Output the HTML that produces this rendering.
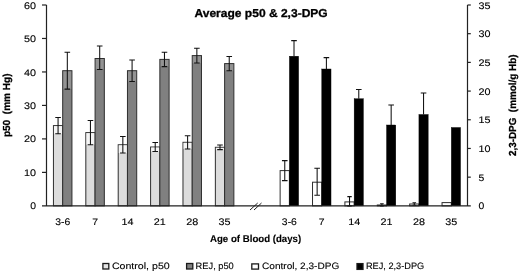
<!DOCTYPE html>
<html><head><meta charset="utf-8"><title>Average p50 &amp; 2,3-DPG</title>
<style>
html,body{margin:0;padding:0;background:#fff;}
body{width:520px;height:273px;overflow:hidden;font-family:"Liberation Sans",sans-serif;}
svg{display:block;will-change:transform;text-rendering:geometricPrecision;filter:blur(0.35px)}
.t{font-family:"Liberation Sans",sans-serif;font-size:9.5px;fill:#000;stroke:#000;stroke-width:0.12px}
.b{font-family:"Liberation Sans",sans-serif;font-weight:bold;fill:#000;stroke:#000;stroke-width:0.12px}
</style></head><body>
<svg width="520" height="273" viewBox="0 0 520 273">
<rect width="520" height="273" fill="#fff"/>
<g>
<rect x="53.44" y="125.60" width="9.25" height="80.25" fill="#dcdcdc" stroke="#2e2e2e" stroke-width="1"/>
<rect x="53.94" y="126.10" width="8.25" height="7.60" fill="#fff" fill-opacity="0.7"/>
<path d="M58.07 117.50V133.70M55.27 117.50H60.87M55.27 133.70H60.87" stroke="#111" stroke-width="1.05" fill="none"/>
<rect x="62.69" y="70.70" width="9.25" height="135.15" fill="#808080" stroke="#2e2e2e" stroke-width="1"/>
<rect x="63.19" y="71.20" width="8.25" height="17.90" fill="#fff" fill-opacity="0.15"/>
<path d="M67.32 52.30V89.10M64.52 52.30H70.12M64.52 89.10H70.12" stroke="#111" stroke-width="1.05" fill="none"/>
<rect x="85.82" y="132.60" width="9.25" height="73.25" fill="#dcdcdc" stroke="#2e2e2e" stroke-width="1"/>
<rect x="86.32" y="133.10" width="8.25" height="11.60" fill="#fff" fill-opacity="0.7"/>
<path d="M90.45 120.50V144.70M87.65 120.50H93.25M87.65 144.70H93.25" stroke="#111" stroke-width="1.05" fill="none"/>
<rect x="95.08" y="58.50" width="9.25" height="147.35" fill="#808080" stroke="#2e2e2e" stroke-width="1"/>
<rect x="95.58" y="59.00" width="8.25" height="10.40" fill="#fff" fill-opacity="0.15"/>
<path d="M99.70 46.00V69.40M96.90 46.00H102.50M96.90 69.40H102.50" stroke="#111" stroke-width="1.05" fill="none"/>
<rect x="118.21" y="144.75" width="9.25" height="61.10" fill="#dcdcdc" stroke="#2e2e2e" stroke-width="1"/>
<rect x="118.71" y="145.25" width="8.25" height="7.75" fill="#fff" fill-opacity="0.7"/>
<path d="M122.84 136.50V153.00M120.04 136.50H125.64M120.04 153.00H125.64" stroke="#111" stroke-width="1.05" fill="none"/>
<rect x="127.46" y="70.70" width="9.25" height="135.15" fill="#808080" stroke="#2e2e2e" stroke-width="1"/>
<rect x="127.96" y="71.20" width="8.25" height="10.30" fill="#fff" fill-opacity="0.15"/>
<path d="M132.09 59.90V81.50M129.29 59.90H134.89M129.29 81.50H134.89" stroke="#111" stroke-width="1.05" fill="none"/>
<rect x="150.59" y="147.00" width="9.25" height="58.85" fill="#dcdcdc" stroke="#2e2e2e" stroke-width="1"/>
<rect x="151.09" y="147.50" width="8.25" height="4.00" fill="#fff" fill-opacity="0.7"/>
<path d="M155.22 142.50V151.50M152.42 142.50H158.02M152.42 151.50H158.02" stroke="#111" stroke-width="1.05" fill="none"/>
<rect x="159.85" y="59.40" width="9.25" height="146.45" fill="#808080" stroke="#2e2e2e" stroke-width="1"/>
<rect x="160.35" y="59.90" width="8.25" height="6.70" fill="#fff" fill-opacity="0.15"/>
<path d="M164.47 52.20V66.60M161.67 52.20H167.27M161.67 66.60H167.27" stroke="#111" stroke-width="1.05" fill="none"/>
<rect x="182.98" y="142.30" width="9.25" height="63.55" fill="#dcdcdc" stroke="#2e2e2e" stroke-width="1"/>
<rect x="183.48" y="142.80" width="8.25" height="6.10" fill="#fff" fill-opacity="0.7"/>
<path d="M187.60 135.70V148.90M184.80 135.70H190.40M184.80 148.90H190.40" stroke="#111" stroke-width="1.05" fill="none"/>
<rect x="192.23" y="55.60" width="9.25" height="150.25" fill="#808080" stroke="#2e2e2e" stroke-width="1"/>
<rect x="192.73" y="56.10" width="8.25" height="6.90" fill="#fff" fill-opacity="0.15"/>
<path d="M196.86 48.20V63.00M194.06 48.20H199.66M194.06 63.00H199.66" stroke="#111" stroke-width="1.05" fill="none"/>
<rect x="215.36" y="147.30" width="9.25" height="58.55" fill="#dcdcdc" stroke="#2e2e2e" stroke-width="1"/>
<rect x="215.86" y="147.80" width="8.25" height="1.80" fill="#fff" fill-opacity="0.7"/>
<path d="M219.99 145.00V149.60M217.19 145.00H222.79M217.19 149.60H222.79" stroke="#111" stroke-width="1.05" fill="none"/>
<rect x="224.62" y="63.60" width="9.25" height="142.25" fill="#808080" stroke="#2e2e2e" stroke-width="1"/>
<rect x="225.12" y="64.10" width="8.25" height="6.60" fill="#fff" fill-opacity="0.15"/>
<path d="M229.24 56.50V70.70M226.44 56.50H232.04M226.44 70.70H232.04" stroke="#111" stroke-width="1.05" fill="none"/>
<rect x="280.13" y="170.60" width="9.25" height="35.25" fill="#ffffff" stroke="#2e2e2e" stroke-width="1"/>
<path d="M284.76 160.60V180.60M281.96 160.60H287.56M281.96 180.60H287.56" stroke="#111" stroke-width="1.05" fill="none"/>
<rect x="289.38" y="56.20" width="9.25" height="149.65" fill="#000000" stroke="#000" stroke-width="0.4"/>
<path d="M294.01 40.60V56.20M291.21 40.60H296.81" stroke="#111" stroke-width="1.05" fill="none"/>
<rect x="312.52" y="182.20" width="9.25" height="23.65" fill="#ffffff" stroke="#2e2e2e" stroke-width="1"/>
<path d="M317.14 168.30V195.20M314.34 168.30H319.94M314.34 195.20H319.94" stroke="#111" stroke-width="1.05" fill="none"/>
<rect x="321.77" y="69.00" width="9.25" height="136.85" fill="#000000" stroke="#000" stroke-width="0.4"/>
<path d="M326.40 57.60V69.00M323.60 57.60H329.20" stroke="#111" stroke-width="1.05" fill="none"/>
<rect x="344.90" y="201.90" width="9.25" height="3.95" fill="#ffffff" stroke="#2e2e2e" stroke-width="1"/>
<path d="M349.53 196.60V205.85M347.33 196.60H351.73M347.33 205.85H351.73" stroke="#111" stroke-width="1.05" fill="none"/>
<rect x="354.15" y="98.75" width="9.25" height="107.10" fill="#000000" stroke="#000" stroke-width="0.4"/>
<path d="M358.78 89.50V98.75M355.98 89.50H361.58" stroke="#111" stroke-width="1.05" fill="none"/>
<rect x="377.29" y="205.00" width="9.25" height="0.85" fill="#ffffff" stroke="#2e2e2e" stroke-width="1"/>
<path d="M381.91 203.70V205.85M380.11 203.70H383.71M380.11 205.85H383.71" stroke="#111" stroke-width="1.05" fill="none"/>
<rect x="386.54" y="125.00" width="9.25" height="80.85" fill="#000000" stroke="#000" stroke-width="0.4"/>
<path d="M391.16 105.00V125.00M388.36 105.00H393.96" stroke="#111" stroke-width="1.05" fill="none"/>
<rect x="409.67" y="204.00" width="9.25" height="1.85" fill="#ffffff" stroke="#2e2e2e" stroke-width="1"/>
<path d="M414.30 202.70V205.30M412.50 202.70H416.10M412.50 205.30H416.10" stroke="#111" stroke-width="1.05" fill="none"/>
<rect x="418.92" y="114.50" width="9.25" height="91.35" fill="#000000" stroke="#000" stroke-width="0.4"/>
<path d="M423.55 93.00V114.50M420.75 93.00H426.35" stroke="#111" stroke-width="1.05" fill="none"/>
<rect x="442.05" y="202.60" width="9.25" height="3.25" fill="#ffffff" stroke="#2e2e2e" stroke-width="1"/>
<rect x="451.31" y="127.50" width="9.25" height="78.35" fill="#000000" stroke="#000" stroke-width="0.4"/>
</g>
<g>
<path d="M46.5 5.0V205.85M467.5 5.0V205.85M42.0 205.85H470.8" stroke="#222" stroke-width="1.2" fill="none"/>
<text x="36.0" y="209.40" text-anchor="end" class="t" textLength="5.8" lengthAdjust="spacingAndGlyphs">0</text>
<path d="M42.0 172.38H46.5" stroke="#222" stroke-width="1.2"/>
<text x="36.0" y="175.93" text-anchor="end" class="t" textLength="12.0" lengthAdjust="spacingAndGlyphs">10</text>
<path d="M42.0 138.90H46.5" stroke="#222" stroke-width="1.2"/>
<text x="36.0" y="142.45" text-anchor="end" class="t" textLength="12.0" lengthAdjust="spacingAndGlyphs">20</text>
<path d="M42.0 105.42H46.5" stroke="#222" stroke-width="1.2"/>
<text x="36.0" y="108.97" text-anchor="end" class="t" textLength="12.0" lengthAdjust="spacingAndGlyphs">30</text>
<path d="M42.0 71.95H46.5" stroke="#222" stroke-width="1.2"/>
<text x="36.0" y="75.50" text-anchor="end" class="t" textLength="12.0" lengthAdjust="spacingAndGlyphs">40</text>
<path d="M42.0 38.47H46.5" stroke="#222" stroke-width="1.2"/>
<text x="36.0" y="42.02" text-anchor="end" class="t" textLength="12.0" lengthAdjust="spacingAndGlyphs">50</text>
<path d="M42.0 5.00H46.5" stroke="#222" stroke-width="1.2"/>
<text x="36.0" y="8.55" text-anchor="end" class="t" textLength="12.0" lengthAdjust="spacingAndGlyphs">60</text>
<text x="478.5" y="209.40" class="t" textLength="5.8" lengthAdjust="spacingAndGlyphs">0</text>
<path d="M467.5 177.16H470.8" stroke="#222" stroke-width="1.2"/>
<text x="478.5" y="180.71" class="t" textLength="5.8" lengthAdjust="spacingAndGlyphs">5</text>
<path d="M467.5 148.46H470.8" stroke="#222" stroke-width="1.2"/>
<text x="478.5" y="152.01" class="t" textLength="12.0" lengthAdjust="spacingAndGlyphs">10</text>
<path d="M467.5 119.77H470.8" stroke="#222" stroke-width="1.2"/>
<text x="478.5" y="123.32" class="t" textLength="12.0" lengthAdjust="spacingAndGlyphs">15</text>
<path d="M467.5 91.08H470.8" stroke="#222" stroke-width="1.2"/>
<text x="478.5" y="94.63" class="t" textLength="12.0" lengthAdjust="spacingAndGlyphs">20</text>
<path d="M467.5 62.39H470.8" stroke="#222" stroke-width="1.2"/>
<text x="478.5" y="65.94" class="t" textLength="12.0" lengthAdjust="spacingAndGlyphs">25</text>
<path d="M467.5 33.69H470.8" stroke="#222" stroke-width="1.2"/>
<text x="478.5" y="37.24" class="t" textLength="12.0" lengthAdjust="spacingAndGlyphs">30</text>
<path d="M467.5 5.00H470.8" stroke="#222" stroke-width="1.2"/>
<text x="478.5" y="8.55" class="t" textLength="12.0" lengthAdjust="spacingAndGlyphs">35</text>
<text x="62.69" y="224.6" text-anchor="middle" class="t" textLength="15.0" lengthAdjust="spacingAndGlyphs">3-6</text>
<text x="289.38" y="224.6" text-anchor="middle" class="t" textLength="15.0" lengthAdjust="spacingAndGlyphs">3-6</text>
<text x="95.08" y="224.6" text-anchor="middle" class="t" textLength="5.8" lengthAdjust="spacingAndGlyphs">7</text>
<text x="321.77" y="224.6" text-anchor="middle" class="t" textLength="5.8" lengthAdjust="spacingAndGlyphs">7</text>
<text x="127.46" y="224.6" text-anchor="middle" class="t" textLength="12.0" lengthAdjust="spacingAndGlyphs">14</text>
<text x="354.15" y="224.6" text-anchor="middle" class="t" textLength="12.0" lengthAdjust="spacingAndGlyphs">14</text>
<text x="159.85" y="224.6" text-anchor="middle" class="t" textLength="12.0" lengthAdjust="spacingAndGlyphs">21</text>
<text x="386.54" y="224.6" text-anchor="middle" class="t" textLength="12.0" lengthAdjust="spacingAndGlyphs">21</text>
<text x="192.23" y="224.6" text-anchor="middle" class="t" textLength="12.0" lengthAdjust="spacingAndGlyphs">28</text>
<text x="418.92" y="224.6" text-anchor="middle" class="t" textLength="12.0" lengthAdjust="spacingAndGlyphs">28</text>
<text x="224.62" y="224.6" text-anchor="middle" class="t" textLength="12.0" lengthAdjust="spacingAndGlyphs">35</text>
<text x="451.31" y="224.6" text-anchor="middle" class="t" textLength="12.0" lengthAdjust="spacingAndGlyphs">35</text>
<path d="M250 210L257.7 203M254 210L261.5 203" stroke="#222" stroke-width="1" fill="none"/>
</g>
<g>
<text x="261.1" y="17.25" text-anchor="middle" class="b" style="stroke-width:0.3px" font-size="11.5" textLength="133.2" lengthAdjust="spacingAndGlyphs">Average p50 &amp; 2,3-DPG</text>
<text x="255.6" y="242.1" text-anchor="middle" class="b" font-size="9.9" textLength="91.2" lengthAdjust="spacingAndGlyphs">Age of Blood (days)</text>
<text transform="translate(9.8 105.3) rotate(-90)" text-anchor="middle" class="b" style="stroke-width:0.25px" font-size="10.2" textLength="63.6" lengthAdjust="spacingAndGlyphs">p50&#160;&#160;(mm Hg)</text>
<text transform="translate(516.3 105.3) rotate(-90)" text-anchor="middle" class="b" style="stroke-width:0.25px" font-size="10.2" textLength="101.6" lengthAdjust="spacingAndGlyphs">2,3-DPG&#160;&#160;(mmol/g Hb)</text>
<rect x="102.9" y="263.5" width="5.9" height="5.5" fill="#e4e4e4" stroke="#1a1a1a" stroke-width="1.3"/>
<text x="111.9" y="269.2" class="t" style="font-size:9.2px" textLength="57.8" lengthAdjust="spacingAndGlyphs">Control, p50</text>
<rect x="186.6" y="263.5" width="6.2" height="5.5" fill="#808080" stroke="#1a1a1a" stroke-width="1.3"/>
<text x="195.6" y="269.2" class="t" style="font-size:9.2px" textLength="38.2" lengthAdjust="spacingAndGlyphs">REJ, p50</text>
<rect x="251.8" y="263.9" width="6.7" height="5.2" fill="#fff" stroke="#1a1a1a" stroke-width="1.3"/>
<text x="262.0" y="269.2" class="t" style="font-size:9.2px" textLength="77.3" lengthAdjust="spacingAndGlyphs">Control, 2,3-DPG</text>
<rect x="357.0" y="263.6" width="6.0" height="5.8" fill="#000" stroke="#1a1a1a" stroke-width="1.3"/>
<text x="365.9" y="269.2" class="t" style="font-size:9.2px" textLength="58.4" lengthAdjust="spacingAndGlyphs">REJ, 2,3-DPG</text>
</g>
</svg>
</body></html>
